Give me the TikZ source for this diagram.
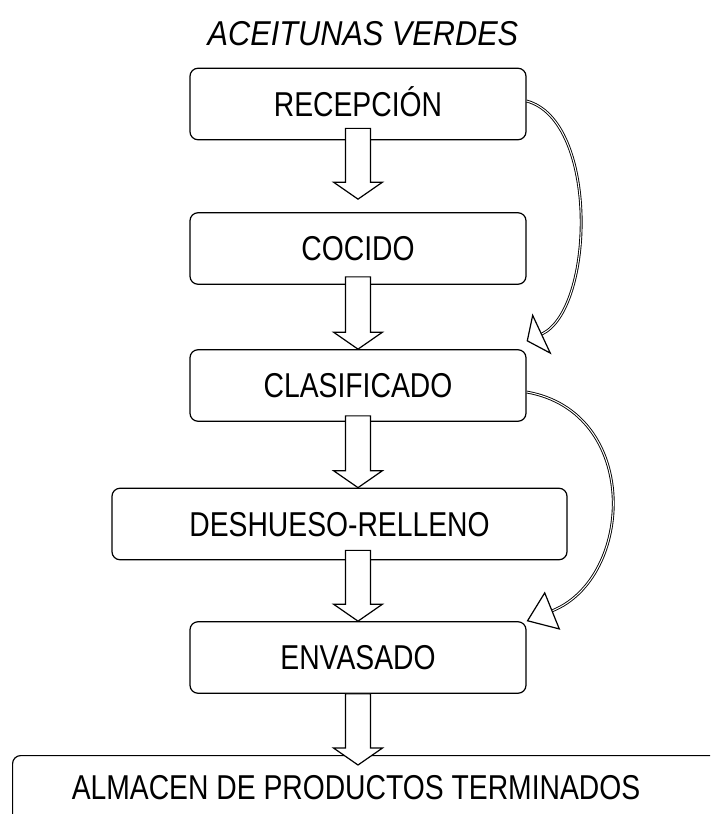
\documentclass[tikz,border=0pt]{standalone}
\usepackage{fontspec}
\setmainfont{Liberation Sans}[FakeStretch=0.82]
\newfontfamily\titlefont{Liberation Sans}[FakeStretch=0.89]
\usepackage{tikz}
\usetikzlibrary{arrows.meta,calc,shapes}

\begin{document}
\begin{tikzpicture}[x=1pt, y=1pt, line width=1.2pt, node distance=140pt, auto,
    font=\fontsize{34.5}{40}\selectfont]

\tikzstyle{block} = [rectangle, draw, fill=white, rounded corners=8pt,
    minimum width=336pt, minimum height=71.5pt, text height=24.5pt, text depth=0pt,
    text centered, inner sep=0pt]
\tikzstyle{titulo} = [text height=24.5pt, text depth=0pt, font=\titlefont\fontsize{34.5}{40}\selectfont\itshape]
% hollow block arrow between two boxes
\tikzstyle{flecha} = [draw, fill=white, to path={
    let \p1=(\tikztostart), \p2=(\tikztotarget) in
    (\x1-12.5pt,\y1) -- (\x1-12.5pt,\y2+17pt) -- (\x1-24.5pt,\y2+17pt) -- (\x1,\y2)
    -- (\x1+24.5pt,\y2+17pt) -- (\x1+12.5pt,\y2+17pt) -- (\x1+12.5pt,\y1) -- cycle}]
\tikzstyle{retro} = [double, double distance=1pt, line width=0.9pt]

    \path[use as bounding box] (0,0) rectangle (710,-814);
    \clip (0,0) rectangle (710,-814);

    % Place nodes
    \node [block] (recepcion) at (358,-104) {RECEPCIÓN};
    \node [titulo, above of=recepcion, node distance=71pt, xshift=5pt] (aceitunas) {ACEITUNAS VERDES};
    \node [block, below of=recepcion, node distance=144.5pt] (cocido) {COCIDO};
    \node [block, below of=cocido, node distance=137pt] (clasificado) {CLASIFICADO};
    \node [block, below of=clasificado, node distance=138.5pt, xshift=-18.5pt,
        minimum width=455pt] (deshueso) {DESHUESO-RELLENO};
    \node [block, below of=deshueso, node distance=133.5pt, xshift=18.5pt] (envasado) {ENVASADO};
    \node [block, anchor=north west, minimum width=740pt, minimum height=100pt] (almacenbox) at (12,-755) {};
    \node [text height=24.5pt, text depth=0pt, below of=envasado, node distance=129.5pt,
        xshift=-2pt] (almacen) {ALMACEN DE PRODUCTOS TERMINADOS};

    % Draw edges
    \path [flecha] ([yshift=12pt]recepcion.south) to ([yshift=13pt]cocido.north);
    \path [flecha] ([yshift=8pt]cocido.south) to (clasificado.north);
    \path [flecha] ([yshift=6pt]clasificado.south) to (deshueso.north);
    \path [flecha] ([yshift=10pt]deshueso.south -| envasado.north) to (envasado.north);
    \path [flecha] (envasado.south) to ([yshift=-10pt]almacenbox.north -| envasado.south);
    \draw [retro, -{Triangle[open, fill=white, length=17pt, width=45pt, line width=1.2pt]}]
        ([yshift=3pt]recepcion.east) to[out=-15, in=25, looseness=0.8] ([yshift=8pt]clasificado.north east);
    \draw [retro, -{Triangle[open, fill=white, length=28pt, width=41pt, line width=1.2pt]}]
        ([yshift=-6.5pt]clasificado.east) to[out=-10, in=22, looseness=1.3] (envasado.north east);
\end{tikzpicture}
\end{document}
